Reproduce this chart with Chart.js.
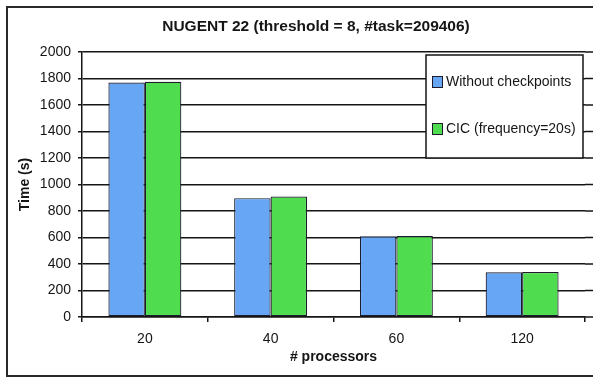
<!DOCTYPE html>
<html>
<head>
<meta charset="utf-8">
<script src="https://cdn.jsdelivr.net/npm/chart.js@4/dist/chart.umd.min.js"></script>
<style>
  html, body { margin: 0; padding: 0; background: #fff; }
  #wrap { width: 593px; height: 379px; position: relative; }
</style>
</head>
<body>
<div id="wrap"><canvas id="c" width="593" height="379"></canvas></div>
<script>
const chartTitle = 'NUGENT 22 (threshold = 8, #task=209406)';
const categories = ['20', '40', '60', '120'];
const seriesNames = ['Without checkpoints', 'CIC (frequency=20s)'];
const withoutCheckpoints = [1770, 897, 610, 338];
const cicFreq20 = [1775, 909, 611, 340];
const yTicks = [0, 200, 400, 600, 800, 1000, 1200, 1400, 1600, 1800, 2000];
const xAxisTitle = '# processors';
const yAxisTitle = 'Time (s)';

const FONT = "'Liberation Sans', Arial, sans-serif";
const INK = '#151515';

const framePlugin = {
  id: 'frame',
  beforeDraw(chart) {
    const ctx = chart.ctx;
    ctx.save();
    ctx.fillStyle = '#fff';
    ctx.fillRect(0, 0, chart.width, chart.height);
    ctx.strokeStyle = '#2a2a2a';
    ctx.lineWidth = 2;
    ctx.beginPath();
    ctx.moveTo(chart.width, 7);
    ctx.lineTo(7, 7);
    ctx.lineTo(7, 376);
    ctx.lineTo(chart.width, 376);
    ctx.stroke();
    ctx.restore();
  },
  afterDraw(chart) {
    const ctx = chart.ctx;
    ctx.save();
    ctx.fillStyle = INK;
    ctx.font = 'bold 15.5px ' + FONT;
    ctx.textAlign = 'center';
    ctx.textBaseline = 'middle';
    ctx.fillText(chartTitle, 316, 27);
    ctx.restore();
  }
};

const gridExtendPlugin = {
  id: 'gridExtend',
  beforeDatasetsDraw(chart) {
    const ctx = chart.ctx;
    const ys = chart.scales.y;
    const a = chart.chartArea;
    ctx.save();
    ctx.strokeStyle = INK;
    ctx.lineWidth = 1.5;
    ys.ticks.forEach(t => {
      const py = ys.getPixelForValue(t.value);
      ctx.beginPath();
      ctx.moveTo(a.right, py);
      ctx.lineTo(chart.width, py);
      ctx.stroke();
    });
    ctx.restore();
  }
};

const boxLegendPlugin = {
  id: 'boxLegend',
  afterDraw(chart) {
    const ctx = chart.ctx;
    const bx = 426, by = 55, bw = 157, bh = 103;
    ctx.save();
    ctx.fillStyle = '#fff';
    ctx.fillRect(bx, by, bw, bh);
    ctx.strokeStyle = INK;
    ctx.lineWidth = 1.5;
    ctx.strokeRect(bx, by, bw, bh);
    const rows = [82, 129];
    chart.data.datasets.forEach((ds, i) => {
      const cy = rows[i];
      ctx.fillStyle = ds.backgroundColor;
      ctx.fillRect(432, cy - 6, 11, 12);
      ctx.strokeStyle = '#1c1c2c';
      ctx.lineWidth = 1;
      ctx.strokeRect(432.5, cy - 5.5, 10, 11);
      ctx.fillStyle = INK;
      ctx.font = '14px ' + FONT;
      ctx.textAlign = 'left';
      ctx.textBaseline = 'middle';
      ctx.fillText(ds.label, 446, cy);
    });
    ctx.restore();
  }
};

new Chart(document.getElementById('c'), {
  type: 'bar',
  data: {
    labels: categories,
    datasets: [
      { label: seriesNames[0], data: withoutCheckpoints, backgroundColor: '#66a6f4', borderColor: '#1c1c2c', borderWidth: 1.2, borderSkipped: false },
      { label: seriesNames[1], data: cicFreq20, backgroundColor: '#4fdc4f', borderColor: '#1c1c2c', borderWidth: 1.2, borderSkipped: false }
    ]
  },
  options: {
    responsive: false,
    animation: false,
    devicePixelRatio: 1,
    layout: { padding: { left: 0, right: 8, top: 52, bottom: 0 } },
    datasets: { bar: { barPercentage: 1, categoryPercentage: 0.58 } },
    plugins: {
      legend: { display: false },
      tooltip: { enabled: false },
      title: { display: false }
    },
    scales: {
      x: {
        afterFit(s) { s.height = 62; },
        grid: { display: true, drawOnChartArea: false, offset: true, tickLength: 5, color: INK, lineWidth: 1.5 },
        border: { display: true, color: INK, width: 1.5 },
        ticks: { color: INK, font: { family: FONT, size: 14 }, padding: 9 },
        title: { display: true, text: xAxisTitle, color: INK, font: { family: FONT, size: 14, weight: 'bold' }, padding: { top: 0, bottom: 13.5 } }
      },
      y: {
        min: 0, max: 2000,
        afterFit(s) { s.width = 82; },
        afterBuildTicks(s) { s.ticks = yTicks.map(v => ({ value: v })); },
        grid: { color: INK, lineWidth: 1.5, tickLength: 4 },
        border: { display: true, color: INK, width: 1.5 },
        ticks: { color: INK, font: { family: FONT, size: 14 }, padding: 7, callback: (v) => String(v) },
        title: { display: true, text: yAxisTitle, color: INK, font: { family: FONT, size: 14, weight: 'bold' }, padding: { top: 16.6, bottom: 0 } }
      }
    }
  },
  plugins: [framePlugin, gridExtendPlugin, boxLegendPlugin]
});
</script>
</body>
</html>
